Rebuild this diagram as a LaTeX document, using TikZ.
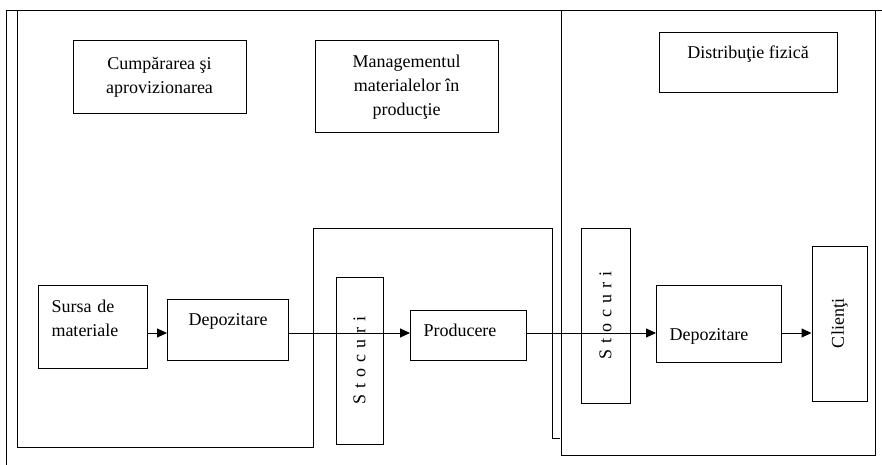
\documentclass[tikz,border=0pt]{standalone}
\usepackage{fontspec}
\setmainfont{Liberation Serif}
\usepackage{graphicx}
\usetikzlibrary{arrows.meta,positioning}

\newcommand{\stocktext}{\rotatebox{90}{\spaceskip=6pt S t o c u r i}}

\tikzset{
    box/.style={draw, line width=1pt, inner sep=0pt, align=center,
        font=\fontsize{18}{24}\selectfont},
    frame/.style={line width=1pt},
    flow/.style={line width=1pt, -{Triangle[length=10pt,width=9pt]}}
}

\begin{document}
\begin{tikzpicture}[x=1pt, y=-1pt]
    \useasboundingbox (0,0) rectangle (882,465);

    % Frames
    \draw[frame] (6,465) -- (6,11) -- (882,11);
    \draw[frame] (17,11) -- (17,447) -- (313,447) -- (313,228) -- (552,228) -- (552,438) -- (560,438);
    \draw[frame] (561,11) -- (561,455) -- (875,455) -- (875,11);

    % Titles
    \node[box, minimum width=173pt, minimum height=73pt] (cump) at (159.5,77.5) {Cumpărarea şi\\aprovizionarea};
    \node[box, minimum width=183pt, minimum height=92pt] (manag) at (406.5,87) {Managementul\\materialelor în\\producţie};
    \node[box, anchor=north, minimum width=178pt, text height=26pt, text depth=34pt] (distrib) at (748,32) {Distribuţie fizică};

    % Flow
    \node[box, anchor=north west, align=left, text width=83pt, inner xsep=13pt, text height=27pt, text depth=56pt] (sursa) at (38,285) {Sursa de\\materiale};
    \node[box, anchor=north west, minimum width=121pt, text height=26pt, text depth=35pt] (dep1) at (167,299) {Depozitare};
    \node[box, minimum width=47pt, minimum height=167pt] (stoc1) at (359.5,360.5) {\stocktext};
    \node[box, anchor=north west, align=left, text width=90pt, inner xsep=13pt, text height=26pt, text depth=24pt] (prod) at (410,310) {Producere};
    \node[box, minimum width=49pt, minimum height=175pt] (stoc2) at (605.5,315.5) {\stocktext};
    \node[box, anchor=north west, align=left, text width=99pt, inner xsep=13pt, text height=55pt, text depth=22pt] (dep2) at (656,285) {Depozitare};
    \node[box, minimum width=55pt, minimum height=155pt] (clienti) at (839.5,323.5) {\rotatebox{90}{Clienţi}};

    % Arrows
    \coordinate (flowline) at (0,333);
    \draw[flow] (sursa.east |- flowline) -- (dep1.west |- flowline);
    \draw[flow] (dep1.east |- flowline) -- (prod.west |- flowline);
    \draw[flow] (prod.east |- flowline) -- (dep2.west |- flowline);
    \draw[flow] (dep2.east |- flowline) -- (clienti.west |- flowline);
\end{tikzpicture}
\end{document}
